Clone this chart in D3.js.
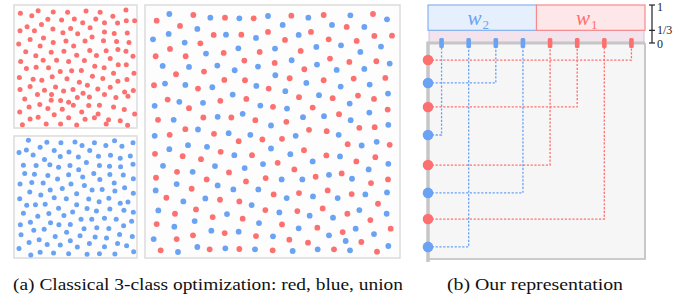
<!DOCTYPE html>
<html><head><meta charset="utf-8">
<script src="https://cdn.jsdelivr.net/npm/d3@7"></script>
<style>html,body{margin:0;padding:0;background:#fff;}svg{display:block;} text{font-family:"Liberation Serif","Times New Roman","DejaVu Serif",serif;}</style>
</head><body>
<script>
// ---------- DATA ----------
// sample positions, in sample-space units of each panel
const redOnly = [[62,40],[96,47],[115,32],[160,36],[203,37],[258,33],[300,37],[338,49],[377,30],[144,58],[185,60],[223,57],[287,57],[378,62],[403,62],
[125,73],[248,68],[313,68],[352,69],[82,80],[159,87],[212,85],[270,83],[61,92],[104,92],[189,98],[233,101],[313,96],[342,100],[381,99],
[131,114],[91,118],[160,127],[198,123],[255,123],[276,111],[310,122],[349,124],[57,132],[121,138],[221,138],[386,127],
[78,155],[154,156],[192,153],[269,151],[318,152],[353,148],[377,153],[108,167],[230,165],[289,166],[398,168],[330,175],[63,184],[130,180],[170,180],[206,184],[253,181],
[80,205],[109,201],[146,203],[284,198],[312,203],[354,194],[378,194],[181,214],[215,212],[244,211],[340,219],[401,219],
[59,232],[100,237],[126,240],[157,230],[201,236],[277,228],[308,235],[238,246],[353,243],[380,238],[91,259],[262,255],[167,260],[330,261],
[61,268],[134,270],[191,272],[219,268],[293,266],[373,275],[399,271],[113,283],[155,283],[249,279],[313,283],[75,296],[232,292],[268,290],[347,292],[383,288],[154,300],[182,301],
[88,320],[120,313],[206,306],[220,315],[266,316],[298,315],[340,320],[372,328],[60,335],[144,325],[187,327],[245,335],[294,341],[403,341],
[91,356],[115,351],[163,343],[206,352],[255,357],[283,352],[325,358],[360,361],[68,373],[139,371],[182,371],[230,374],[318,371],[382,375]];

const blueOnly = [[86,30],[141,36],[183,37],[225,35],[283,37],[343,31],[398,37],[246,46],[317,46],[365,48],[121,51],[80,59],[163,61],[207,65],[269,61],[58,67],[100,74],[181,79],[235,80],[295,78],[331,75],[360,84],[390,77],
[134,88],[259,97],[71,105],[109,106],[150,104],[176,111],[210,106],[236,119],[298,106],[328,108],[361,110],[398,102],[75,130],[104,132],[144,136],[206,134],[281,130],[329,133],[369,135],[248,141],[299,148],[399,146],
[61,162],[96,157],[130,159],[173,147],[213,162],[253,166],[342,159],[373,173],[151,180],[187,175],[230,191],[276,180],[306,178],[344,183],[90,186],[123,195],[399,190],[60,206],[163,203],[199,206],[266,207],[297,215],[326,205],[360,220],[383,216],[81,226],[107,224],[136,223],[176,235],[230,224],
[71,250],[114,259],[147,251],[192,257],[218,246],[261,236],[289,243],[329,237],[371,241],[399,247],[243,268],[275,268],[313,265],[348,268],[62,285],[92,277],[152,279],[177,285],[211,284],[394,274],[370,288],
[102,301],[133,298],[200,307],[252,297],[290,294],[326,296],[358,314],[396,320],[64,315],[166,320],[240,318],[285,322],[319,325],[88,338],[118,330],[211,333],[142,344],[181,346],[268,341],[352,341],[379,348],[58,356],[313,351],[232,352],[93,376],[121,368],[161,370],[206,372],[261,374],[298,372],[344,373],[400,366]];

const unionRed = [[50,62],[160,45],[255,53],[341,55],[454,47],[551,45],[699,42],
[120,78],[620,81],[221,105],[304,104],[384,96],[513,96],[703,108],[756,107],[181,130],[435,120],[566,118],[650,123],
[90,147],[47,169],[137,169],[251,159],[359,156],[482,153],
[313,182],[404,189],[570,176],[628,186],[709,184],[493,208],[192,215],[108,223],
[449,235],[551,241],[641,236],[736,234],[253,240],[315,241],[42,256],[174,266],[386,266],
[83,299],[241,303],[319,297],[477,292],[578,295],[654,287],[702,297],[147,325],[399,321],[518,323],[743,329],
[54,360],[190,353],[274,353],[346,361],[439,366],[597,343],[658,384],[704,382],
[136,388],[222,402],[507,390],[560,394],[89,405],[367,419],[426,417],
[296,424],[623,433],[749,435],[45,462],[242,456],[492,451],[128,469],[183,478],[336,466],[559,467],[706,472],
[413,489],[649,485],[111,516],[267,518],[463,509],[605,521],[527,531],[48,534],[377,535],[744,539],[200,539],[318,545],
[693,550],[155,567],[563,572],[401,584],[477,580],[635,583],
[79,594],[240,600],[298,605],[714,612],
[168,629],[376,631],[472,634],[548,626],[105,642],[622,642],[218,652],[308,657],[691,661],
[50,673],[426,674],[532,684],[254,700],[608,697],[752,687],[159,707],[348,709],
[110,718],[448,720],[504,729],[664,727],
[62,752],[209,749],[298,748],[398,752],[582,749],[711,756]];

const unionBlue = [[88,42],[211,53],[298,55],[384,48],[505,53],[631,46],[741,58],
[172,87],[428,75],[576,75],[673,81],[86,102],[258,104],[476,105],[39,118],[134,128],[348,114],
[295,145],[405,146],[529,141],[603,136],[723,140],[198,161],[661,156],
[455,181],[749,191],[68,198],[147,201],[232,197],[354,200],[531,194],[284,211],[590,210],[673,207],[406,226],
[75,251],[136,255],[217,262],[349,258],[499,249],[602,260],[689,254],
[278,284],[436,274],[744,281],[118,306],[537,286],[44,318],[189,309],[361,317],[441,326],[629,311],
[308,342],[688,338],[101,360],[233,351],[489,352],[552,349],[632,361],[745,375],
[393,377],[174,389],[266,400],[331,405],[596,405],[44,408],[467,408],
[144,436],[201,441],[665,437],[710,426],[88,448],[393,446],[283,466],[451,463],[600,470],
[69,498],[225,499],[369,493],[518,485],[745,492],[158,516],[314,505],[686,509],[567,525],[425,539],[487,539],[636,537],
[110,553],[233,557],[280,569],[355,569],[47,572],[741,578],[519,590],[676,584],
[130,605],[196,596],[440,595],[593,595],[335,616],
[55,632],[418,638],[658,631],[261,643],[509,648],[740,642],[579,654],
[164,664],[357,670],[103,681],[476,686],[647,687],[214,693],[296,696],[41,718],[399,710],[567,707],[702,703],[617,724],
[114,757],[172,742],[256,746],[345,749],[458,754],[533,749],[630,752],[745,739]];

// panel (b): 1D slots and the ordered sample list
const slotClass = ["blue","blue","blue","blue","red","red","red","red"];
const sampleClass = ["red","blue","red","blue","red","blue","red","blue"];
const sampleSlot = [7, 2, 5, 0, 4, 3, 6, 1];
const samplePos = [0.079, 0.185, 0.296, 0.426, 0.565, 0.694, 0.815, 0.944];
const weightLabels = [{name:"w", sub:"2", cls:"blue", from:0, to:0.5}, {name:"w", sub:"1", cls:"red", from:0.5, to:1}];
const levelTicks = [{v:1, t:"1", dy:6}, {v:1/3, t:"1/3", dy:3.5}, {v:0, t:"0", dy:5}];
const captions = ["(a) Classical 3-class optimization: red, blue, union", "(b) Our representation"];

// ---------- DRAW ----------
const W = 697, H = 303;
const RED = "#fd7070", BLUE = "#6aa2f4";
const SERIF = "'Liberation Serif', 'Times New Roman', 'DejaVu Serif', serif";
const col = c => c === "red" ? RED : BLUE;
const svg = d3.select("body").append("svg").attr("width", W).attr("height", H);
svg.append("rect").attr("width", W).attr("height", H).attr("fill", "#fff");

function panel(box, dom, sets, r) {
  const g = svg.append("g");
  g.append("rect").attr("x", box.x0).attr("y", box.y0).attr("width", box.x1 - box.x0).attr("height", box.y1 - box.y0)
    .attr("fill", "#fdfdfd").attr("stroke", "#dcdcdc").attr("stroke-width", 1.5);
  const x = d3.scaleLinear().domain(dom.x).range([box.x0, box.x1]);
  const y = d3.scaleLinear().domain(dom.y).range([box.y0, box.y1]);
  sets.forEach(s => {
    g.selectAll(null).data(s.data).enter().append("circle")
      .attr("cx", d => x(d[0])).attr("cy", d => y(d[1])).attr("r", r).attr("fill", s.color);
  });
}
panel({x0:14, x1:137, y0:5, y1:128}, {x:[43,410], y:[15,383]}, [{data:redOnly, color:RED}], 2.5);
panel({x0:14, x1:137, y0:136, y1:258}, {x:[43,410], y:[17,385]}, [{data:blueOnly, color:BLUE}], 2.5);
panel({x0:145, x1:400, y0:5, y1:258}, {x:[15,780], y:[15,775]}, [{data:unionRed, color:RED}, {data:unionBlue, color:BLUE}], 2.9);

// panel (b)
const bx0 = 428, bx1 = 645, by0 = 43, by1 = 259;
const gb = svg.append("g");
const xs = d3.scalePoint().domain(d3.range(slotClass.length)).range([bx0, bx1]).padding(0.5);
const ys = d3.scaleLinear().domain([0, 1]).range([by0, by1]);
const xw = d3.scaleLinear().domain([0, 1]).range([bx0, bx1]);
const lv = d3.scaleLinear().domain([0, 1]).range([by0, 5]);

gb.append("rect").attr("x", bx0).attr("y", by0).attr("width", bx1 - bx0).attr("height", by1 - by0)
  .attr("fill", "#f6f6f6");
gb.append("path").attr("d", `M${bx1},${by0}V${by1}H${bx0}`).attr("fill", "none").attr("stroke", "#bcbcbc").attr("stroke-width", 1.6);

// pink band 0..1/3
gb.append("rect").attr("x", xw(0) + 1).attr("y", lv(1/3)).attr("width", xw(1) - xw(0) - 2).attr("height", lv(0) - lv(1/3))
  .attr("fill", "#f3e3ec").attr("stroke", "#c9c3e6").attr("stroke-width", 1);
// weight boxes 1/3..1
weightLabels.forEach(w => {
  gb.append("rect").attr("x", xw(w.from)).attr("y", lv(1)).attr("width", xw(w.to) - xw(w.from)).attr("height", lv(1/3) - lv(1))
    .attr("fill", w.cls === "red" ? "#fde7e8" : "#e6f0fd").attr("stroke", w.cls === "red" ? "#f78a8a" : "#86b2f2").attr("stroke-width", 1.2);
  const t = gb.append("text").attr("x", (xw(w.from) + xw(w.to)) / 2 - 4).attr("y", lv(0.62) + 6)
    .attr("font-family", SERIF)
    .attr("text-anchor", "middle").attr("font-size", 21).attr("font-style", "italic").attr("fill", col(w.cls));
  t.append("tspan").text(w.name);
  t.append("tspan").attr("font-size", 13).attr("font-style", "normal").attr("dy", 4).attr("dx", 1).text(w.sub);
});

// dashed connectors
sampleClass.forEach((c, i) => {
  const sx = xs(sampleSlot[i]), sy = ys(samplePos[i]);
  gb.append("path").attr("d", `M${bx0},${sy}H${sx}V${by0 + 4}`).attr("fill", "none")
    .attr("stroke", col(c)).attr("stroke-width", 1.3).attr("stroke-dasharray", "2.2,1.6");
});
// axis lines
gb.append("line").attr("x1", bx0).attr("x2", bx1).attr("y1", by0).attr("y2", by0).attr("stroke", "#c6c6c6").attr("stroke-width", 3);
gb.append("line").attr("x1", bx0).attr("x2", bx0).attr("y1", by0 - 1.5).attr("y2", by1 + 3).attr("stroke", "#c6c6c6").attr("stroke-width", 3.5);
// slot ticks
gb.selectAll(null).data(slotClass).enter().append("rect")
  .attr("x", (d, i) => xs(i) - 2.3).attr("y", by0 - 5).attr("width", 4.6).attr("height", 10).attr("rx", 1.5)
  .attr("fill", d => col(d));
// samples
gb.selectAll(null).data(sampleClass).enter().append("circle")
  .attr("cx", bx0).attr("cy", (d, i) => ys(samplePos[i])).attr("r", 5.3).attr("fill", d => col(d));

// level scale
const sxl = 652;
gb.append("line").attr("x1", sxl).attr("x2", sxl).attr("y1", lv(1)).attr("y2", lv(0)).attr("stroke", "#222").attr("stroke-width", 1.2);
levelTicks.forEach(t => {
  gb.append("line").attr("x1", sxl - 3).attr("x2", sxl + 3).attr("y1", lv(t.v)).attr("y2", lv(t.v)).attr("stroke", "#222").attr("stroke-width", 1.2);
  gb.append("text").attr("x", sxl + 5).attr("y", lv(t.v) + t.dy).attr("font-family", SERIF)
    .attr("font-size", 12).attr("fill", "#222").text(t.t);
});

// captions
svg.append("text").attr("x", 13).attr("y", 290).attr("font-family", SERIF).attr("font-size", 16).attr("fill", "#111")
  .attr("textLength", 390).attr("lengthAdjust", "spacingAndGlyphs").text(captions[0]);
svg.append("text").attr("x", 447).attr("y", 290).attr("font-family", SERIF).attr("font-size", 16).attr("fill", "#111")
  .attr("textLength", 176).attr("lengthAdjust", "spacingAndGlyphs").text(captions[1]);
</script>
</body></html>
